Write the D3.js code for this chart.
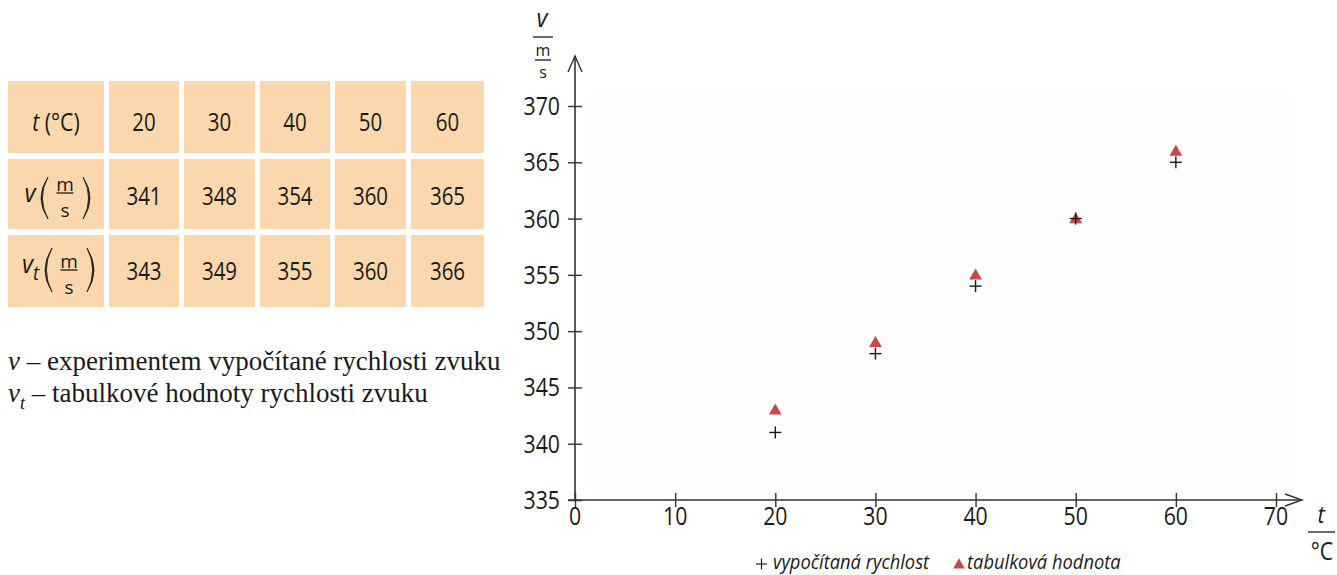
<!DOCTYPE html>
<html><head><meta charset="utf-8">
<script src="https://cdn.jsdelivr.net/npm/d3@7"></script>
<style>html,body{margin:0;padding:0;background:#fff;}svg{display:block;}</style>
</head><body>
<script>
// ---- data ----
const temps = [20, 30, 40, 50, 60];
const vMeasured = [341, 348, 354, 360, 365];
const vTable = [343, 349, 355, 360, 366];
const xTicks = [0, 10, 20, 30, 40, 50, 60, 70];
const yTicks = [335, 340, 345, 350, 355, 360, 365, 370];
const legendSeries = ["vypočítaná rychlost", "tabulková hodnota"];
const noteLines = ["experimentem vypočítané rychlosti zvuku", "tabulkové hodnoty rychlosti zvuku"];

const W = 1337, H = 575;
const svg = d3.select("body").append("svg").attr("width", W).attr("height", H);
const SANS = "'Open Sans', 'Noto Sans', sans-serif";
const SERIF = "'Liberation Serif', 'Times New Roman', serif";
const INK = "#1a1a1a";

function ctext(g, x, y, str, o = {}) {
  const t = g.append("text")
    .attr("transform", `translate(${x},${y}) scale(${o.sx || 0.85},1)`)
    .attr("text-anchor", o.anchor || "middle")
    .attr("font-family", o.family || SANS)
    .attr("font-size", o.size || 24)
    .attr("font-style", o.italic ? "italic" : "normal")
    .attr("fill", o.fill || INK);
  t.text(str);
  return t;
}
// fraction "m over s"
function frac(g, cx, yLine, w, size, gapTop, gapBottom, sx) {
  ctext(g, cx, yLine - gapTop, "m", {size: size, sx: sx});
  g.append("line").attr("x1", cx - w / 2).attr("x2", cx + w / 2).attr("y1", yLine).attr("y2", yLine)
    .attr("stroke", INK).attr("stroke-width", 1.3);
  ctext(g, cx, yLine + gapBottom, "s", {size: size, sx: sx});
}

// ---- table ----
const tbl = svg.append("g");
const colX = [[8, 104], [109, 179], [184, 255], [260, 330], [335, 406], [411, 484]];
const rowY = [[81, 153], [159, 229], [235, 307]];
rowY.forEach(r => colX.forEach(c => {
  tbl.append("rect").attr("x", c[0]).attr("y", r[0]).attr("width", c[1] - c[0]).attr("height", r[1] - r[0]).attr("fill", "#fbd7ad");
}));
const rows = [temps, vMeasured, vTable];
const baselines = [131, 205, 280];
rows.forEach((arr, ri) => arr.forEach((v, ci) => {
  const c = colX[ci + 1];
  ctext(tbl, (c[0] + c[1]) / 2, baselines[ri], v, {size: 25, sx: 0.82});
}));
// header row 1: t (°C)
{
  const t = tbl.append("text").attr("transform", "translate(56,131) scale(0.85,1)").attr("text-anchor", "middle")
    .attr("font-family", SANS).attr("font-size", 25).attr("fill", INK);
  t.append("tspan").attr("font-style", "italic").text("t");
  t.append("tspan").text(" (°C)");
}
function paren(g, x, y0, y1, left) {
  const mid = (y0 + y1) / 2, bulge = left ? -7 : 7;
  g.append("path")
    .attr("d", `M${x},${y0} Q${x + bulge * 2},${mid} ${x},${y1} Q${x + bulge * 1.6},${mid} ${x},${y0} Z`)
    .attr("fill", INK).attr("stroke", INK).attr("stroke-width", 0.8);
}
// row 2: v (m/s)
ctext(tbl, 30, 202, "v", {size: 26, italic: true, sx: 0.92});
paren(tbl, 48, 177, 219, true);
frac(tbl, 65, 193, 17, 19, 2, 24, 1.0);
paren(tbl, 83, 177, 219, false);
// row 3: v_t (m/s)
{
  const t = tbl.append("text").attr("transform", "translate(22,273) scale(0.92,1)")
    .attr("font-family", SANS).attr("font-style", "italic").attr("font-size", 26).attr("fill", INK);
  t.append("tspan").text("v");
  t.append("tspan").attr("font-size", 20).attr("dy", 7).text("t");
}
paren(tbl, 52, 248, 292, true);
frac(tbl, 69, 270, 17, 19, 2, 23.5, 1.0);
paren(tbl, 87, 248, 292, false);

// ---- notes under the table ----
const notes = svg.append("g").attr("font-family", SERIF).attr("font-size", 27).attr("fill", INK);
{
  const t1 = notes.append("text").attr("x", 8).attr("y", 370);
  t1.append("tspan").attr("font-style", "italic").text("v");
  t1.append("tspan").text(" – " + noteLines[0]);
  const t2 = notes.append("text").attr("x", 8).attr("y", 402);
  t2.append("tspan").attr("font-style", "italic").text("v");
  t2.append("tspan").attr("font-style", "italic").attr("font-size", 18).attr("dy", 7).text("t");
  t2.append("tspan").attr("dy", -7).text(" – " + noteLines[1]);
}

// ---- chart ----
const x = d3.scaleLinear().domain([0, 70]).range([575, 1276]);
const y = d3.scaleLinear().domain([335, 370]).range([500, 106]);
const ch = svg.append("g");
ch.append("rect").attr("x", 590).attr("y", 95).attr("width", 700).attr("height", 395).attr("fill", "#fdfdfd");

const AX = "#333";
// axis lines with open arrows
ch.append("line").attr("x1", x(0)).attr("x2", x(0)).attr("y1", y(335)).attr("y2", 56).attr("stroke", AX).attr("stroke-width", 1.6);
ch.append("path").attr("d", `M${x(0) - 7},72 L${x(0)},56 L${x(0) + 7},72`).attr("fill", "none").attr("stroke", AX).attr("stroke-width", 1.4);
ch.append("line").attr("x1", x(0) - 7).attr("x2", 1302).attr("y1", y(335)).attr("y2", y(335)).attr("stroke", AX).attr("stroke-width", 1.6);
ch.append("path").attr("d", `M1285,${y(335) - 6} L1302,${y(335)} L1285,${y(335) + 6}`).attr("fill", "none").attr("stroke", AX).attr("stroke-width", 1.4);

// y axis via d3 axis
const yAx = ch.append("g").attr("transform", `translate(${x(0)},0)`)
  .call(d3.axisLeft(y).tickValues(yTicks).tickSize(7).tickFormat(""));
yAx.select(".domain").remove();
yAx.selectAll(".tick line").attr("x2", 7).attr("x1", -7).attr("stroke", AX).attr("stroke-width", 1.4);
yTicks.forEach(v => ctext(ch, 560, y(v) + 9, v, {anchor: "end", size: 25, sx: 0.85}));

const xAx = ch.append("g").attr("transform", `translate(0,${y(335)})`)
  .call(d3.axisBottom(x).tickValues(xTicks).tickSize(7).tickFormat(""));
xAx.select(".domain").remove();
xAx.selectAll(".tick line").attr("y1", -7).attr("y2", 7).attr("stroke", AX).attr("stroke-width", 1.4);
xTicks.forEach(v => ctext(ch, x(v), 525, v, {size: 25, sx: 0.85}));

// axis labels: v / (m/s)
ctext(ch, 542, 27, "v", {size: 25, italic: true, sx: 0.95});
ch.append("line").attr("x1", 533).attr("x2", 553).attr("y1", 37).attr("y2", 37).attr("stroke", INK).attr("stroke-width", 1.3);
frac(ch, 543, 60, 16, 16, 4, 18, 1.0);

ctext(ch, 1321, 523, "t", {size: 23, italic: true, sx: 0.95});
ch.append("line").attr("x1", 1308).attr("x2", 1335).attr("y1", 532).attr("y2", 532).attr("stroke", INK).attr("stroke-width", 1.3);
ctext(ch, 1322, 560, "°C", {size: 25, sx: 0.85});

// markers
const RED = "#c8484a";
const tri = d3.symbol().type(d3.symbolTriangle).size(70);
ch.selectAll(".tri").data(temps).join("path").attr("class", "tri")
  .attr("transform", (d, i) => `translate(${x(d)},${y(vTable[i]) + 1})`).attr("d", tri).attr("fill", RED);
const plus = ch.selectAll(".plus").data(temps).join("g").attr("class", "plus")
  .attr("transform", (d, i) => `translate(${x(d)},${y(vMeasured[i])})`);
plus.append("line").attr("x1", -6).attr("x2", 6).attr("stroke", INK).attr("stroke-width", 1.4);
plus.append("line").attr("y1", -6).attr("y2", 6).attr("stroke", INK).attr("stroke-width", 1.4);

// legend
const lg = svg.append("g");
lg.append("line").attr("x1", 756).attr("x2", 767).attr("y1", 564).attr("y2", 564).attr("stroke", INK).attr("stroke-width", 1.2);
lg.append("line").attr("x1", 761.5).attr("x2", 761.5).attr("y1", 558.5).attr("y2", 569.5).attr("stroke", INK).attr("stroke-width", 1.2);
ctext(lg, 773, 569, legendSeries[0], {anchor: "start", size: 19.5, italic: true, sx: 0.94});
lg.append("path").attr("transform", "translate(959,565)").attr("d", d3.symbol().type(d3.symbolTriangle).size(60)).attr("fill", RED);
ctext(lg, 967, 569, legendSeries[1], {anchor: "start", size: 19.5, italic: true, sx: 0.94});
</script>
</body></html>
